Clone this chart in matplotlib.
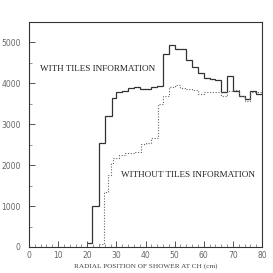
import matplotlib
matplotlib.use("Agg")
import matplotlib.pyplot as plt
import numpy as np

# Data: "with tiles information" (solid histogram)
with_edges = [20, 21.6, 24, 26.2, 28.4, 30, 32, 34, 36, 38, 40, 42, 44, 46, 48, 50,
              52, 54, 56, 58, 60, 62, 64, 66, 68, 70, 72, 74, 76, 78, 80]
with_vals = [100, 1000, 2550, 3200, 3650, 3780, 3820, 3880, 3900, 3870, 3860, 3900, 3930,
             4720, 4950, 4830, 4830, 4580, 4390, 4260, 4140, 4100, 4090, 3800, 4190,
             3820, 3680, 3630, 3820, 3750]

# Data: "without tiles information" (dotted histogram)
without_edges = [24, 25.7, 27.1, 28, 29, 31, 33, 36, 38.5, 40, 42, 44.3, 46, 48, 50,
                 52, 54, 56, 58, 60, 62, 64, 66, 68, 70, 72, 74, 76, 78, 80]
without_vals = [80, 1350, 1760, 2050, 2180, 2250, 2300, 2330, 2520, 2550, 2670, 3500,
                3700, 3900, 3950, 3880, 3870, 3850, 3750, 3780, 3800, 3780, 3700, 3820,
                3850, 3700, 3580, 3800, 3780]

x_ticks = [0, 10, 20, 30, 40, 50, 60, 70, 80]
y_ticks = [0, 1000, 2000, 3000, 4000, 5000]

fig = plt.figure(figsize=(2.73, 2.73), dpi=100)
ax = fig.add_axes([29/273, 26/273, 233/273, 225/273])

ax.stairs(with_vals, with_edges, color="#333333", lw=0.9, baseline=None)
ax.stairs(without_vals, without_edges, color="#666666", lw=0.8, ls=(0, (1, 1.5)), baseline=None)

ax.set_xlim(0, 80)
ax.set_ylim(0, 5500)
ax.set_xticks(x_ticks)
ax.set_yticks(y_ticks)
ax.set_xticks(np.arange(0, 81, 2), minor=True)
ax.set_yticks(np.arange(0, 5501, 500), minor=True)
ax.tick_params(which="major", direction="in", length=4, width=0.7, colors="#555555",
               labelsize=5.5, labelcolor="#666666")
ax.tick_params(axis="y", which="major", pad=6)
ax.tick_params(axis="x", which="major", pad=3)
ax.tick_params(which="minor", direction="in", length=2, width=0.5, colors="#666666")
for s in ax.spines.values():
    s.set_linewidth(0.8)
    s.set_color("#333333")

ax.text(3.8, 4340, "WITH TILES INFORMATION", family="Liberation Serif", fontsize=6.6,
        color="#222222", va="center", ha="left")
ax.text(31.6, 1765, "WITHOUT TILES INFORMATION", family="Liberation Serif", fontsize=6.6,
        color="#222222", va="center", ha="left")
ax.set_xlabel("RADIAL POSITION OF SHOWER AT CH (cm)", family="Liberation Serif",
              fontsize=5.2, color="#444444", labelpad=2)

fig.savefig("out.png", dpi=100)
